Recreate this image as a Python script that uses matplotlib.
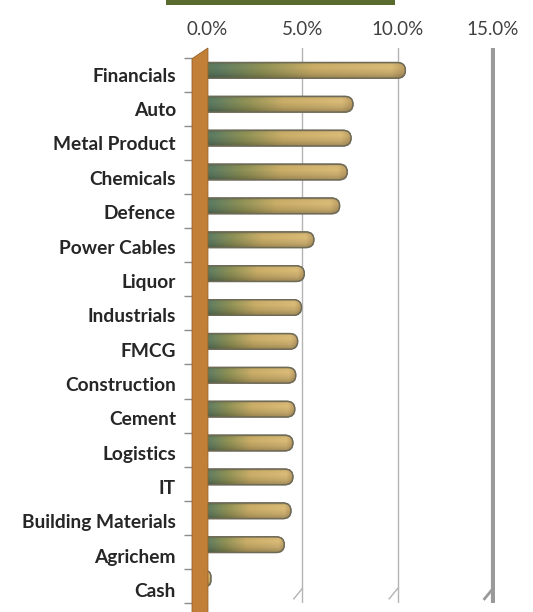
import matplotlib
matplotlib.use("Agg")
import matplotlib.pyplot as plt
import matplotlib.transforms as mtransforms
from matplotlib.patches import Polygon, Rectangle, FancyBboxPatch
import numpy as np

sectors = [
    "Financials", "Auto", "Metal Product", "Chemicals", "Defence",
    "Power Cables", "Liquor", "Industrials", "FMCG", "Construction",
    "Cement", "Logistics", "IT", "Building Materials", "Agrichem", "Cash",
]
weights = [10.4, 7.65, 7.55, 7.35, 6.95, 5.6, 5.1, 4.95, 4.75, 4.65,
           4.6, 4.5, 4.5, 4.4, 4.05, 0.2]
x_ticks = [0, 5, 10, 15]
x_tick_labels = ["0.0%", "5.0%", "10.0%", "15.0%"]

plt.rcParams["font.family"] = ["Lato", "DejaVu Sans"]

fig = plt.figure(figsize=(5.33, 6.12), dpi=100)
ax = fig.add_axes([192 / 533, 9 / 612, 303 / 533, 555 / 612])

pos = np.arange(len(sectors))
bars = ax.barh(pos, weights, height=0.46, left=0)

# colour ramp along the bar (olive -> tan) and shading across it
nx, ny = 200, 40
tx = np.linspace(0, 1, nx)
stops = [0.0, 0.08, 0.3, 0.55, 0.93, 1.0]
cols = np.array([
    [0.38, 0.46, 0.30],
    [0.36, 0.48, 0.38],
    [0.55, 0.56, 0.33],
    [0.78, 0.67, 0.40],
    [0.84, 0.72, 0.46],
    [0.72, 0.60, 0.38],
])
ramp = np.stack([np.interp(tx, stops, cols[:, k]) for k in range(3)], axis=1)
ty = np.linspace(0, 1, ny)
shade = np.interp(ty, [0, 0.12, 0.35, 0.7, 1.0], [0.78, 1.0, 1.02, 0.92, 0.76])
img = np.clip(shade[:, None, None] * ramp[None, :, :], 0, 1)

# pixel aspect: 1 x unit ~ 19.07 px, 1 y unit ~ 34.8 px
rx = 0.42
aspect = 0.23 / 0.42
for b in bars:
    b.set_visible(False)
    x0, y0 = b.get_x(), b.get_y()
    w, h = b.get_width(), b.get_height()
    r = min(rx, (w + rx) / 2)
    body = FancyBboxPatch((x0 - rx, y0), w + rx, h,
                          boxstyle=f"round,pad=0,rounding_size={r}",
                          mutation_aspect=aspect, facecolor="#d2b262",
                          edgecolor="#6e6a58", linewidth=1.0, zorder=3)
    ax.add_patch(body)
    im = ax.imshow(img, extent=(x0 - rx, x0 + w, y0 + h, y0), origin="upper",
                   aspect="auto", zorder=3.1, interpolation="bilinear")
    im.set_clip_path(body)
    edge = FancyBboxPatch((x0 - rx, y0), w + rx, h,
                          boxstyle=f"round,pad=0,rounding_size={r}",
                          mutation_aspect=aspect, facecolor="none",
                          edgecolor="#6e6a58", linewidth=1.0, zorder=3.2)
    ax.add_patch(edge)

ax.set_xlim(-0.787, 15.1)
ax.set_ylim(15.29, -0.66)

# gridlines with the little floor foot at the bottom
for xv in x_ticks[1:]:
    c, lw = ("#9a9a9a", 3.0) if xv == x_ticks[-1] else ("#b4b4b4", 1.0)
    ax.axvline(xv, color=c, lw=lw, zorder=1)
    ax.plot([xv, xv - 0.45], [15.29, 15.6], color=c, lw=min(lw, 2.0),
            clip_on=False, zorder=1)

# left wall of the 3D frame
wall = Polygon([(-0.787, 16.5), (-0.787, -0.345), (0.05, -0.66), (0.05, 16.5)],
               closed=True, facecolor="#c27f38", edgecolor="#9a6228",
               lw=0.6, zorder=4, clip_on=False)
ax.add_patch(wall)

ax.xaxis.tick_top()
ax.set_xticks(x_ticks)
ax.set_xticklabels(x_tick_labels)
ax.tick_params(axis="x", length=0, pad=7, labelsize=13.5, labelcolor="#404040")

bounds = -0.374 + 1.006 * np.arange(len(sectors) + 1)
ax.set_yticks(bounds)
ax.set_yticklabels([])
ax.tick_params(axis="y", length=6, width=1.0, color="#8c8c8c", pad=2)

for s in ax.spines.values():
    s.set_visible(False)

trans = mtransforms.blended_transform_factory(fig.transFigure, ax.transData)
for i, name in enumerate(sectors):
    ax.text(176 / 533, 0.172 + 1.0144 * i, name, transform=trans,
            ha="right", va="center", fontsize=13.8, fontweight="bold",
            color="#262626", clip_on=False)

# green title strip at the very top
fig.patches.append(Rectangle((166 / 533, 1 - 5 / 612), 229 / 533, 5 / 612,
                             transform=fig.transFigure, facecolor="#5a6b2e",
                             edgecolor="none"))

fig.savefig("out.png", dpi=100)
